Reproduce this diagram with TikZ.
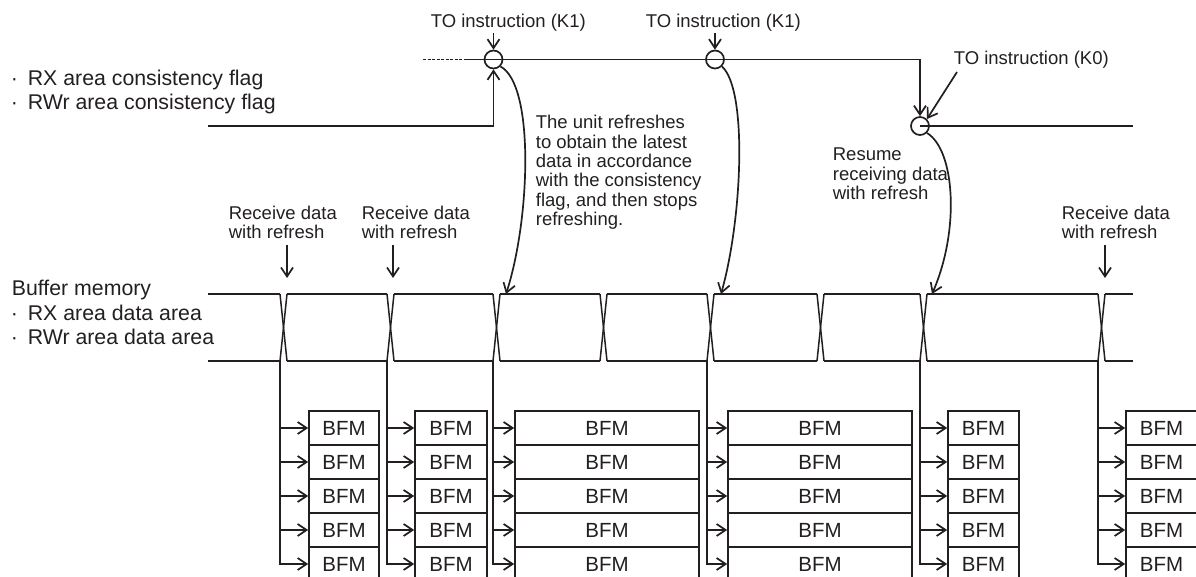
\documentclass[tikz,border=0pt]{standalone}
\usepackage{fontspec}
\setmainfont{Liberation Sans}
\usetikzlibrary{arrows.meta}
\definecolor{ink}{HTML}{231F20}
\begin{document}
\begin{tikzpicture}[x=1pt,y=-1pt,line width=1.7pt,color=ink,
  >={Straight Barb[length=9pt,width=12pt]},
  lbl/.style={font=\fontsize{18.5}{19.3}\selectfont,inner sep=0pt,anchor=base west,align=left},
  big/.style={font=\fontsize{21.3}{24.5}\selectfont,inner sep=0pt,anchor=base west,align=left},
  bfm/.style={draw,rectangle,minimum height=34pt,inner sep=0pt,font=\fontsize{20.5}{24}\selectfont},
  ring/.style={draw,circle,minimum size=18pt,inner sep=0pt},
  sig/.style={line width=1.5pt}]
\useasboundingbox (0,0) rectangle (1196,577);
\clip (0,0) rectangle (1196,577);

% left labels (multi-line nodes: base = last line's baseline)
\node[big] (flags) at (10,110) {\makebox[17pt][l]{·}RX area consistency flag\\\makebox[17pt][l]{·}RWr area consistency flag};
\node[big] (bufmem) at (11,295) {Buffer memory};
\node[big,font=\fontsize{21.3}{24}\selectfont] (areas) at (10,344) {\makebox[17pt][l]{·}RX area data area\\\makebox[17pt][l]{·}RWr area data area};

% top texts
\node[lbl] (t1) at (430,27.5) {TO instruction (K1)};
\node[lbl] (t2) at (645,27.5) {TO instruction (K1)};
\node[lbl] (t3) at (953,65) {TO instruction (K0)};
\node[lbl] (para) at (535,225.5) {The unit refreshes\\to obtain the latest\\data in accordance\\with the consistency\\flag, and then stops\\refreshing.};
\node[lbl] (resume) at (832,199.6) {Resume\\receiving data\\with refresh};
\node[lbl] (r1) at (228,239) {Receive data\\with refresh};
\node[lbl] (r2) at (361,239) {Receive data\\with refresh};
\node[lbl] (r3) at (1061,239) {Receive data\\with refresh};

% rings
\node[ring] (c1) at (493.5,59.5) {};
\node[ring] (c2) at (715,59.5) {};
\node[ring] (c3) at (920,126) {};

% flag line
\coordinate (d0) at (423,59.5);
\coordinate (d1) at (465,59.5);
\draw[line width=1.3pt,dash pattern=on 3pt off 1.5pt] (d0) -- (d1);
\draw[->] (d1) -- (c3 |- d1) -- (c3.north);
\draw (c3.center) -- (1133,126);
\coordinate (f0) at (208,126);
\draw[->] (f0) -- (f0 -| c1) -- (c1.south);

% TO arrows
\coordinate (a1) at (493.5,33);
\coordinate (a2) at (715,33);
\coordinate (a3) at (957,72);
\draw[->] (a1) -- (c1.north);
\draw[->] (a2) -- (c2.north);
\draw[->] (a3) -- (c3.north east);

% refresh curves
\coordinate (e1) at (506,294);
\coordinate (e2) at (721,294);
\coordinate (e3) at (932,294);
\draw[->] (c1.south east) .. controls (535,85) and (530,220) .. (e1);
\draw[->] (c2.south east) .. controls (748,90) and (742,220) .. (e2);
\draw[->] (c3.south east) .. controls (955,150) and (960,230) .. (e3);

% receive arrows
\coordinate (q1) at (287,245); \coordinate (p1) at (287,278);
\coordinate (q2) at (393,245); \coordinate (p2) at (393,278);
\coordinate (q3) at (1105,245); \coordinate (p3) at (1105,278);
\draw[->] (q1) -- (p1);
\draw[->] (q2) -- (p2);
\draw[->] (q3) -- (p3);

% buffer timing lines
\foreach \a/\b in {208/280,287/387,394/493,500/600,607/707,714/817,824/920,927/1098,1105/1133}{
  \draw[sig] (\a,294) -- (\b,294);
  \draw[sig] (\a,361) -- (\b,361);
}
\foreach \x in {280,387,493,600,707,817,920,1098}{
  \draw[sig] (\x,294) -- ({\x+7},361);
  \draw[sig] ({\x+7},294) -- (\x,361);
}

% BFM groups
\foreach \g/\L/\B/\W in {1/280/309/70,2/387/415/72,3/493/515/184,4/707/728/184,5/920/948/71,6/1098/1126/71}{
  \foreach \r in {1,...,5}{
    \node[bfm,minimum width=\W pt] (b\g\r) at ({\B+\W/2},{394+34*\r}) {BFM};
  }
  \coordinate (v\g) at (\L,361);
  \draw[->] (v\g) |- (b\g5.west);
  \foreach \r in {1,...,4}{
    \draw[->] (b\g\r.west -| v\g) -- (b\g\r.west);
  }
}
\end{tikzpicture}
\end{document}
